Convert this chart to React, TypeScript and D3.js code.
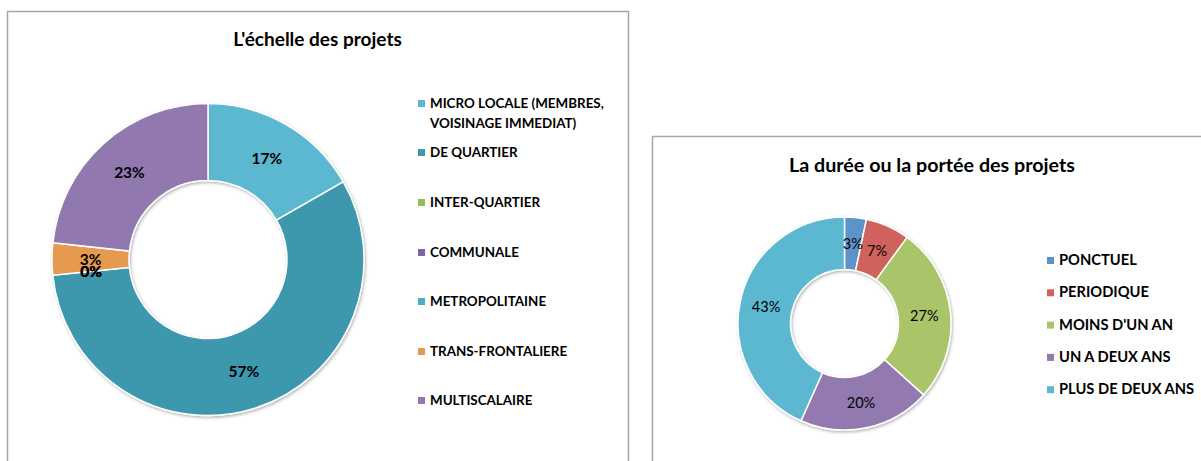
import React from "react";
import * as d3 from "d3";

// ---- Data: chart 1 (L'échelle des projets) ----
const scaleCategories = [
  "MICRO LOCALE (MEMBRES, VOISINAGE IMMEDIAT)",
  "DE QUARTIER",
  "INTER-QUARTIER",
  "COMMUNALE",
  "METROPOLITAINE",
  "TRANS-FRONTALIERE",
  "MULTISCALAIRE",
];
const scaleLegendLines = [
  ["MICRO LOCALE (MEMBRES,", "VOISINAGE IMMEDIAT)"],
  ["DE QUARTIER"],
  ["INTER-QUARTIER"],
  ["COMMUNALE"],
  ["METROPOLITAINE"],
  ["TRANS-FRONTALIERE"],
  ["MULTISCALAIRE"],
];
const scaleValues = [16.7, 56.7, 0, 0, 0, 3.3, 23.3];
const scaleColors = ["#5BB8D1", "#3D97AD", "#9BBB59", "#8064A2", "#4BACC6", "#E69A50", "#9179B0"];

// ---- Data: chart 2 (La durée ou la portée des projets) ----
const durationCategories = ["PONCTUEL", "PERIODIQUE", "MOINS D'UN AN", "UN A DEUX ANS", "PLUS DE DEUX ANS"];
const durationValues = [3.3, 6.7, 26.7, 20, 43.3];
const durationColors = ["#5B93C8", "#CF625B", "#AAC46A", "#9279B0", "#5BB8D1"];

const FONT = "Lato, 'Open Sans', sans-serif";

type DonutProps = {
  cx: number;
  cy: number;
  outer: number;
  inner: number;
  values: number[];
  colors: string[];
  labelWeight: number;
  labelSize: number;
  id: string;
};

function Donut({ cx, cy, outer, inner, values, colors, labelWeight, labelSize, id }: DonutProps) {
  const pie = d3
    .pie<number>()
    .sort(null)
    .value((d) => d)
    .startAngle(0)
    .endAngle(2 * Math.PI);
  const arcs = pie(values);
  const arc = d3.arc<d3.PieArcDatum<number>>().innerRadius(inner).outerRadius(outer);
  return (
    <g transform={`translate(${cx},${cy})`}>
      <g filter={`url(#${id})`}>
        {arcs.map((a, i) =>
          a.endAngle - a.startAngle > 0 ? (
            <path key={i} d={arc(a) || ""} fill={colors[i]} stroke="#fff" strokeWidth={1.5} />
          ) : null
        )}
      </g>
      {arcs.map((a, i) => {
        const [x, y] = arc.centroid(a);
        return (
          <text
            key={"l" + i}
            x={x}
            y={y}
            textAnchor="middle"
            dominantBaseline="central"
            fontFamily={FONT}
            fontWeight={labelWeight}
            fontSize={labelSize}
            fill="#000"
          >
            {Math.round(values[i])}%
          </text>
        );
      })}
    </g>
  );
}

export default function App() {
  const leftLegendY = [108, 157, 207, 257, 306, 356, 405];
  const rightLegendY = d3.range(durationCategories.length).map((i) => 265 + i * 32.3);
  return (
    <svg
      width={1201}
      height={461}
      style={{ position: "absolute", left: 0, top: 0, background: "#fff" }}
      xmlns="http://www.w3.org/2000/svg"
    >
      <defs>
        <filter id="sh1" x="-20%" y="-20%" width="140%" height="140%">
          <feDropShadow dx="1" dy="1.5" stdDeviation="1.5" floodColor="#000" floodOpacity="0.3" />
        </filter>
        <filter id="sh2" x="-20%" y="-20%" width="140%" height="140%">
          <feDropShadow dx="1" dy="1.5" stdDeviation="1.5" floodColor="#000" floodOpacity="0.3" />
        </filter>
      </defs>

      {/* Left chart frame */}
      <rect x={7.5} y={11.5} width={621} height={470} fill="#fff" stroke="#A6A6A6" strokeWidth={1.5} />
      <text x={317.5} y={46} textAnchor="middle" fontFamily={FONT} fontWeight={700} fontSize={19} fill="#000">
        L'échelle des projets
      </text>
      <Donut
        cx={208}
        cy={259.5}
        outer={156}
        inner={79}
        values={scaleValues}
        colors={scaleColors}
        labelWeight={700}
        labelSize={15.5}
        id="sh1"
      />
      {scaleCategories.map((c, i) => (
        <g key={c}>
          <rect x={418} y={leftLegendY[i] - 8} width={7} height={7} fill={scaleColors[i]} />
          {scaleLegendLines[i].map((line, j) => (
            <text
              key={j}
              x={430}
              y={leftLegendY[i] + j * 19.5}
              fontFamily={FONT}
              fontWeight={700}
              fontSize={13.4}
              fill="#000"
            >
              {line}
            </text>
          ))}
        </g>
      ))}

      {/* Right chart frame */}
      <rect x={652.5} y={136.5} width={600} height={400} fill="#fff" stroke="#A6A6A6" strokeWidth={1.5} />
      <text x={932} y={172} textAnchor="middle" fontFamily={FONT} fontWeight={700} fontSize={19.7} fill="#000">
        La durée ou la portée des projets
      </text>
      <Donut
        cx={844.5}
        cy={323.5}
        outer={106.5}
        inner={54}
        values={durationValues}
        colors={durationColors}
        labelWeight={400}
        labelSize={14.5}
        id="sh2"
      />
      {durationCategories.map((c, i) => (
        <g key={c}>
          <rect x={1047} y={rightLegendY[i] - 8} width={7} height={7} fill={durationColors[i]} />
          <text x={1059} y={rightLegendY[i]} fontFamily={FONT} fontWeight={700} fontSize={14.7} fill="#000">
            {c}
          </text>
        </g>
      ))}
    </svg>
  );
}
